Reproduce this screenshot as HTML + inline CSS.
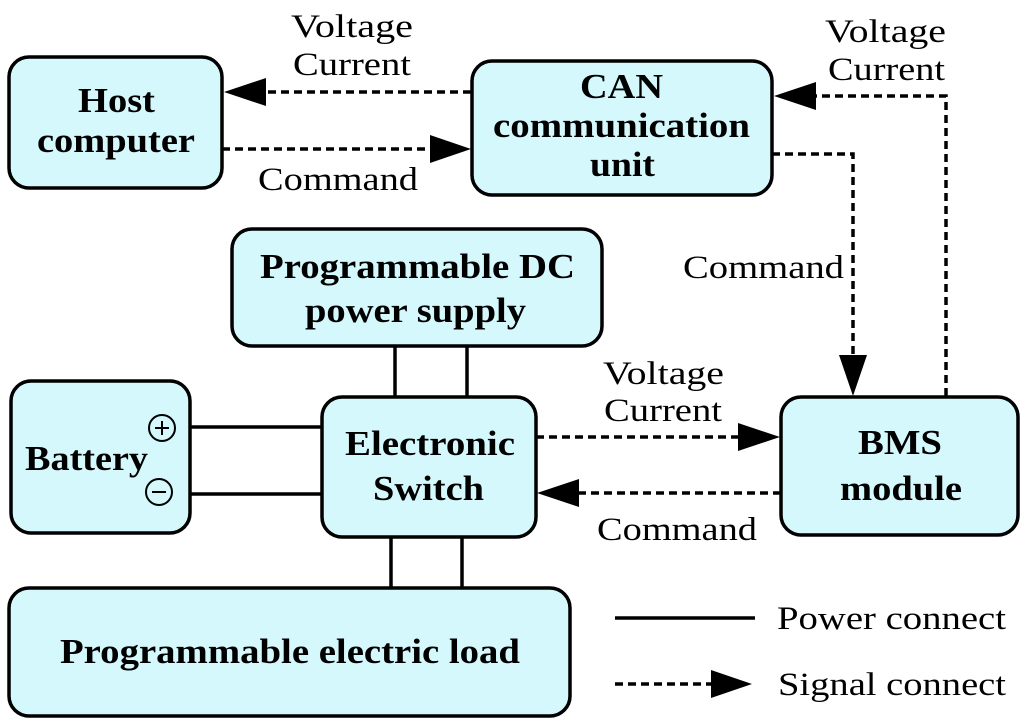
<!DOCTYPE html>
<html><head><meta charset="utf-8"><style>
html,body{margin:0;padding:0;background:#fff}
svg{display:block}
text{font-family:"Liberation Serif",serif}
.b{font-weight:bold;font-size:35px}
.r{font-size:33px}
</style></head><body>
<svg width="1024" height="724" viewBox="0 0 1024 724" xmlns="http://www.w3.org/2000/svg">
<g fill="#d4f8fc" stroke="#000" stroke-width="3.5">
<rect x="9" y="57" width="213" height="131" rx="20"/>
<rect x="472" y="61" width="300" height="134" rx="20"/>
<rect x="232" y="229" width="370" height="117" rx="20"/>
<rect x="11" y="381" width="179" height="152" rx="20"/>
<rect x="322" y="397" width="214" height="140" rx="20"/>
<rect x="9" y="588" width="561" height="128" rx="20"/>
<rect x="781" y="397" width="237" height="138" rx="20"/>
</g>
<g stroke="#000" stroke-width="3.5" fill="none">
<line x1="395" y1="346" x2="395" y2="397"/>
<line x1="467" y1="346" x2="467" y2="397"/>
<line x1="391" y1="537" x2="391" y2="588"/>
<line x1="462" y1="537" x2="462" y2="588"/>
<line x1="190" y1="427" x2="322" y2="427"/>
<line x1="190" y1="494" x2="322" y2="494"/>
<line x1="615" y1="618" x2="755" y2="618"/>
</g>
<g stroke="#000" stroke-width="3.5" fill="none" stroke-dasharray="8,5">
<line x1="471" y1="92" x2="264" y2="92"/>
<line x1="222" y1="149" x2="432" y2="149"/>
<polyline points="946,396 946,96 814,96"/>
<polyline points="772,154 853,154 853,358"/>
<line x1="536" y1="437" x2="740" y2="437"/>
<line x1="781" y1="493" x2="578" y2="493"/>
<line x1="615" y1="684" x2="714" y2="684"/>
</g>
<g fill="#000">
<polygon points="224,92 266,78 266,106"/>
<polygon points="471,149 430,135 430,163"/>
<polygon points="774,96 816,82 816,110"/>
<polygon points="853,396 839,355 867,355"/>
<polygon points="780,437 738,423 738,451"/>
<polygon points="537,493 579,479 579,507"/>
<polygon points="752,684 711,670 711,698"/>
</g>
<g fill="none" stroke="#000" stroke-width="2">
<circle cx="162" cy="428" r="13"/>
<circle cx="159" cy="492" r="13"/>
<line x1="155" y1="428" x2="169" y2="428"/><line x1="162" y1="421" x2="162" y2="435"/>
<line x1="152" y1="492" x2="166" y2="492"/>
</g>
<g lengthAdjust="spacingAndGlyphs">
<text class="b" x="78" y="112" textLength="77" lengthAdjust="spacingAndGlyphs">Host</text>
<text class="b" x="37" y="152" textLength="158" lengthAdjust="spacingAndGlyphs">computer</text>
<text class="b" x="580" y="98" textLength="83" lengthAdjust="spacingAndGlyphs">CAN</text>
<text class="b" x="493" y="137" textLength="257" lengthAdjust="spacingAndGlyphs">communication</text>
<text class="b" x="590" y="176" textLength="65" lengthAdjust="spacingAndGlyphs">unit</text>
<text class="b" x="260" y="278" textLength="315" lengthAdjust="spacingAndGlyphs">Programmable DC</text>
<text class="b" x="305" y="322" textLength="221" lengthAdjust="spacingAndGlyphs">power supply</text>
<text class="b" x="25" y="470" textLength="123" lengthAdjust="spacingAndGlyphs">Battery</text>
<text class="b" x="345" y="455" textLength="170" lengthAdjust="spacingAndGlyphs">Electronic</text>
<text class="b" x="373" y="500" textLength="111" lengthAdjust="spacingAndGlyphs">Switch</text>
<text class="b" x="858" y="454" textLength="84" lengthAdjust="spacingAndGlyphs">BMS</text>
<text class="b" x="840" y="500" textLength="122" lengthAdjust="spacingAndGlyphs">module</text>
<text class="b" x="60" y="663" textLength="460" lengthAdjust="spacingAndGlyphs">Programmable electric load</text>
<text class="r" x="291" y="37" textLength="122" lengthAdjust="spacingAndGlyphs">Voltage</text>
<text class="r" x="293" y="75" textLength="118" lengthAdjust="spacingAndGlyphs">Current</text>
<text class="r" x="258" y="190" textLength="160" lengthAdjust="spacingAndGlyphs">Command</text>
<text class="r" x="825" y="42" textLength="121" lengthAdjust="spacingAndGlyphs">Voltage</text>
<text class="r" x="828" y="80" textLength="117" lengthAdjust="spacingAndGlyphs">Current</text>
<text class="r" x="683" y="278" textLength="161" lengthAdjust="spacingAndGlyphs">Command</text>
<text class="r" x="603" y="384" textLength="121" lengthAdjust="spacingAndGlyphs">Voltage</text>
<text class="r" x="604" y="421" textLength="118" lengthAdjust="spacingAndGlyphs">Current</text>
<text class="r" x="597" y="540" textLength="160" lengthAdjust="spacingAndGlyphs">Command</text>
<text class="r" x="777" y="629" textLength="229" lengthAdjust="spacingAndGlyphs">Power connect</text>
<text class="r" x="778" y="695" textLength="228" lengthAdjust="spacingAndGlyphs">Signal connect</text>
</g>
</svg>
</body></html>
